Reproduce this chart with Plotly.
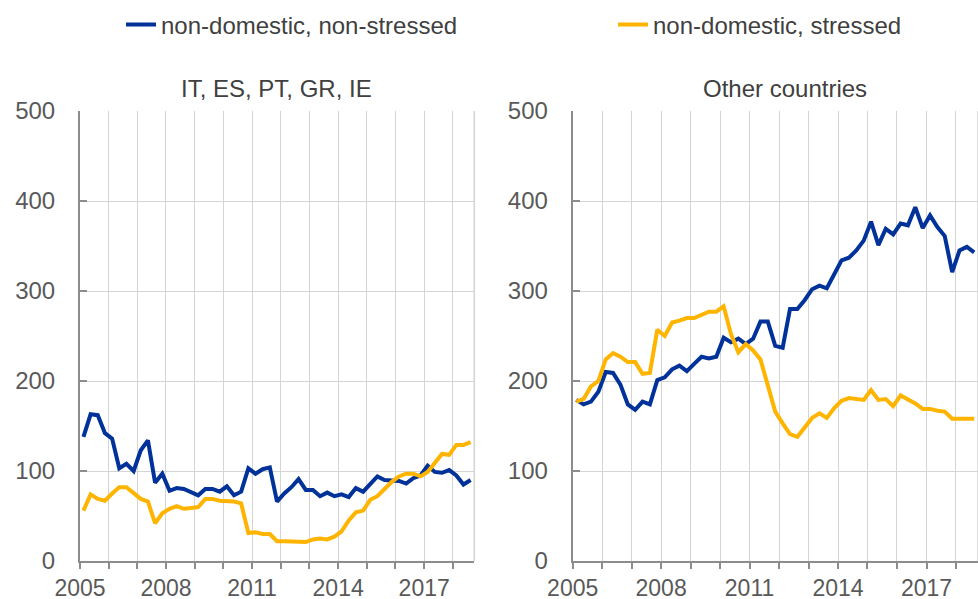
import plotly.graph_objects as go
import pandas as pd

# Quarterly observations, 2005Q1 - 2018Q3
quarters = pd.period_range("2005Q1", "2018Q3", freq="Q")
x_dates = [(p.start_time + (p.end_time - p.start_time) / 2).strftime("%Y-%m-%d") for p in quarters]

panel_titles = ["IT, ES, PT, GR, IE", "Other countries"]
series_names = ["non-domestic, non-stressed", "non-domestic, stressed"]

# IT, ES, PT, GR, IE
left_non_stressed = [138, 163, 162, 142, 136, 103, 108, 100, 123, 134,
                     87, 97, 78, 81, 80, 77, 73, 80, 80, 77,
                     83, 73, 77, 103, 97, 102, 104, 66, 75, 82,
                     91, 79, 79, 72, 76, 72, 74, 71, 81, 77,
                     86, 94, 90, 90, 89, 86, 92, 95, 106, 99,
                     98, 101, 95, 85, 90]
left_stressed = [56, 74, 69, 67, 75, 82, 82, 75, 69, 66,
                 42, 53, 58, 61, 58, 59, 60, 69, 69, 67,
                 67, 66, 64, 31, 32, 30, 30, 22, 22, 22,
                 21, 21, 24, 25, 24, 27, 33, 45, 54, 56,
                 68, 72, 80, 88, 94, 97, 97, 94, 99, 109,
                 119, 118, 129, 129, 132]

# Other countries
right_non_stressed = [179, 174, 177, 188, 210, 209, 196, 174, 168, 177,
                      174, 201, 204, 213, 217, 211, 219, 227, 225, 227,
                      248, 243, 247, 241, 247, 266, 266, 239, 237, 280,
                      280, 290, 302, 306, 303, 319, 334, 337, 345, 356,
                      377, 351, 369, 363, 375, 373, 393, 370, 384, 371,
                      361, 321, 345, 349, 343]
right_stressed = [177, 180, 194, 200, 224, 231, 227, 221, 221, 208,
                  209, 257, 250, 265, 267, 270, 270, 274, 277, 277,
                  283, 252, 232, 241, 234, 224, 194, 166, 153, 141,
                  138, 149, 159, 164, 159, 170, 178, 181, 180, 179,
                  190, 179, 180, 172, 184, 180, 175, 169, 169, 167,
                  166, 158, 158, 158, 158]

BLUE = "#003299"
YELLOW = "#FFB400"
FONT = "Liberation Sans, Arial, sans-serif"

fig = go.Figure()
panels = [(left_non_stressed, left_stressed, "x", "y"),
          (right_non_stressed, right_stressed, "x2", "y2")]
for i, (ns, st, xa, ya) in enumerate(panels):
    fig.add_trace(go.Scatter(x=x_dates, y=ns, mode="lines", name=series_names[0],
                             line=dict(color=BLUE, width=4), xaxis=xa, yaxis=ya,
                             showlegend=(i == 0), legend="legend"))
    fig.add_trace(go.Scatter(x=x_dates, y=st, mode="lines", name=series_names[1],
                             line=dict(color=YELLOW, width=4), xaxis=xa, yaxis=ya,
                             showlegend=(i == 0), legend="legend2"))

grid = "#d4d4d4"
axcol = "#8c8c8c"
tickfont = dict(family=FONT, size=24, color="#595959")
xtickfont = dict(family=FONT, size=23, color="#595959")

xcommon = dict(type="date", range=["2005-01-01", "2018-10-01"],
               tick0="2005-01-01", dtick="M36", tickformat="%Y",
               showgrid=True, gridcolor=grid, gridwidth=1,
               showline=True, linecolor=axcol, linewidth=1.5,
               ticks="outside", ticklen=6, tickcolor=axcol, tickwidth=1.5,
               tickfont=xtickfont, zeroline=False,
               minor=dict(dtick="M12", tick0="2005-01-01", showgrid=True, gridcolor=grid,
                          ticks="outside", ticklen=6, tickcolor=axcol, tickwidth=1.5))
ycommon = dict(range=[0, 500], dtick=100, showgrid=True, gridcolor=grid, gridwidth=1,
               showline=True, linecolor=axcol, linewidth=2,
               ticks="inside", ticklen=7, tickcolor=axcol, tickwidth=2,
               tickfont=tickfont, zeroline=False, ticklabelstandoff=18)

L, R, T, B, W, H = 80, 0, 111, 38, 978, 599
pw = W - L - R
ph = H - T - B

legend_common = dict(orientation="h", xref="container", yref="container",
                     y=1 - 25 / H, xanchor="left", yanchor="middle",
                     font=dict(family=FONT, size=24, color="#404040"),
                     bgcolor="rgba(0,0,0,0)")

fig.update_layout(
    width=W, height=H,
    margin=dict(l=L, r=R, t=T, b=B, autoexpand=False),
    paper_bgcolor="white", plot_bgcolor="white",
    font=dict(family=FONT, color="#404040"),
    xaxis=dict(domain=[0, (474.3 - L) / pw], anchor="y", **xcommon),
    yaxis=dict(domain=[0, 1], anchor="x", **ycommon),
    xaxis2=dict(domain=[(572.7 - L) / pw, 1], anchor="y2", **xcommon),
    yaxis2=dict(domain=[0, 1], anchor="x2", **ycommon),
    legend=dict(x=121 / W, **legend_common),
    legend2=dict(x=613 / W, **legend_common),
    showlegend=True,
)

title_x = [(276 - L) / pw, (784.5 - L) / pw]
for tx, txt in zip(title_x, panel_titles):
    fig.add_annotation(text=txt, x=tx, y=1 + (T - 89) / ph, xref="paper", yref="paper",
                       xanchor="center", yanchor="middle", showarrow=False,
                       font=dict(family=FONT, size=24, color="#404040"))

# right-hand frame line of each panel
for xa in ["x", "x2"]:
    fig.add_shape(type="line", xref=f"{xa} domain", yref="paper", x0=1, x1=1, y0=0, y1=1,
                  line=dict(color=grid, width=1.5))

# remove the default page margin so the figure fills the 978x599 window exactly
fig.write_html("out.html", config={"displayModeBar": False},
               post_script="document.body.style.margin='0';document.body.style.overflow='hidden';")
